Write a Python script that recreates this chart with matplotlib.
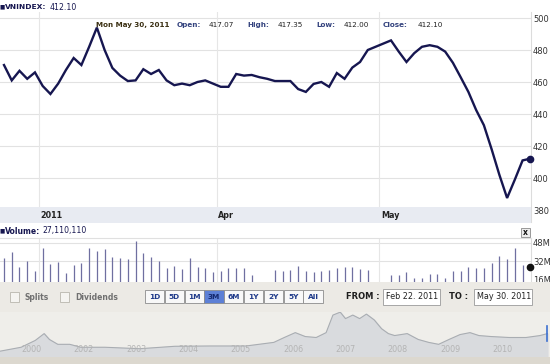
import matplotlib.pyplot as plt
from matplotlib.patches import Rectangle
import numpy as np

W, H = 550, 364

# VNINDEX daily close, Feb 22 -> May 30 2011 (one value per trading day)
close = [470.6, 461, 467, 462, 466, 457.5, 452.5, 459, 467.5, 475,
         470.6, 482, 494, 480, 468.8, 464, 460.6, 461, 468, 465,
         467.5, 461, 458, 459, 458, 460, 461, 459, 457, 457,
         465, 464, 464.4, 463, 462, 460.6, 460.6, 460.6, 455.6, 453.8,
         458.8, 460, 457, 465.6, 462, 469, 472.5, 480, 482, 484,
         486, 479, 472.5, 478, 482, 483, 482, 479, 472, 463,
         453.8, 442.5, 433, 418, 402, 387.5, 399, 411, 412.1]

# volume in millions of shares (nan = no bar drawn)
nan = np.nan
volume = [35.0, 40.2, 27.2, 32.4, 23.8, 43.7, 29.8, 31.6, 22.1, 29.0,
          30.7, 43.7, 41.1, 42.8, 35.9, 35.0, 34.2, 49.7, 39.4, 35.9,
          32.4, 26.4, 28.1, 25.5, 35.0, 27.2, 26.4, 22.9, 23.8, 26.4,
          26.4, 26.4, 20.3, nan, nan, 24.6, 23.8, 24.6, 28.1, 23.8,
          22.9, 23.8, 24.6, 26.4, 27.2, 27.2, 25.5, 24.6, nan, nan,
          20.3, 20.3, 22.9, 17.7, 17.7, 21.2, 21.2, 17.7, 23.8, 23.8,
          27.2, 26.4, 26.4, 30.7, 36.8, 34.2, 43.7, 29.0, 27.11]

month_pos = [4.5, 27.5, 48.5]
month_labels = ["2011", "Apr", "May"]
price_ticks = [380, 400, 420, 440, 460, 480, 500]
vol_ticks = [16, 32, 48]

# long-term overview (navigator) - position in label units, index level
hist_t = [-0.6, -0.2, 0.07, 0.24, 0.34, 0.5, 0.73, 0.94, 1.4, 2.07, 2.74, 3.42,
          4.1, 4.63, 4.83, 5.04, 5.23, 5.44, 5.63, 5.76, 5.9, 6.0, 6.14, 6.27,
          6.4, 6.55, 6.69, 6.82, 6.94, 7.18, 7.39, 7.59, 7.78, 7.98, 8.19,
          8.38, 8.55, 8.78, 9.13, 9.45, 9.72, 9.86]
hist_v = [156, 260, 442, 624, 468, 338, 338, 260, 260, 221, 286, 294,
          294, 390, 520, 650, 546, 520, 650, 1118, 1196, 1024, 1118, 1024,
          1144, 988, 754, 624, 572, 624, 468, 390, 338, 468, 598,
          650, 572, 546, 520, 520, 572, 624]
hist_labels = ["2000", "2002", "2003", "2004", "2005", "2006", "2007", "2008", "2009", "2010"]


def px_axes(x0, y0, x1, y1, **kw):
    return fig.add_axes([x0 / W, 1 - y1 / H, (x1 - x0) / W, (y1 - y0) / H], **kw)


def ftext(x, y, s, **kw):
    kw.setdefault("fontsize", 6)
    kw.setdefault("va", "center")
    return fig.text(x / W, 1 - y / H, s, **kw)


fig = plt.figure(figsize=(W / 100, H / 100), dpi=100)
fig.patch.set_facecolor("white")

idx = np.arange(len(close))
xlim = (-4 / 7.74, 527 / 7.74)
navy = "#161650"
lab_col = "#34437e"

# ---- price panel
ax = px_axes(0, 12, 531, 222)
ax.plot(idx, close, color=navy, lw=1.7, solid_joinstyle="miter", zorder=3)
ax.plot(idx[-1], close[-1], "o", color=navy, ms=4.5, clip_on=False, zorder=4)
ax.set_xlim(xlim)
ax.set_ylim(372.5, 503.75)
ax.set_yticks(price_ticks)
ax.yaxis.tick_right()
ax.tick_params(axis="y", length=0, pad=1.5, labelsize=6, labelcolor="#333333")
ax.set_xticks([])
for v in price_ticks:
    ax.axhline(v, color="#e2e2e2", lw=0.8, zorder=1)
for p in month_pos:
    ax.axvline(p, color="#e6e6e6", lw=0.8, zorder=1)
for s in ["top", "left", "bottom"]:
    ax.spines[s].set_visible(False)
ax.spines["right"].set_color("#dcdcdc")
ax.spines["right"].set_linewidth(0.8)

# ---- date band
band = px_axes(0, 207, 531, 223)
band.set_facecolor("#e8ebf2")
band.set_xlim(xlim)
band.set_ylim(0, 1)
band.set_xticks([])
band.set_yticks([])
for s in band.spines.values():
    s.set_visible(False)
for p, lab in zip(month_pos, month_labels):
    band.text(p + 0.2, 0.45, lab, fontsize=5.8, fontweight="bold", color="#222222",
              va="center", ha="left")

# ---- headers
ftext(0, 7, "\u25a0", fontsize=4, color=navy)
ftext(5, 7, "VNINDEX:", fontweight="bold", color=navy, fontsize=5.4)
ftext(50, 7, "412.10", fontsize=5.6, color=navy)

ftext(96, 25, "Mon May 30, 2011", fontweight="bold", color="#3a2f12", fontsize=5.1)
for x, s, bold in [(177, "Open:", True), (209, "417.07", False),
                   (247, "High:", True), (278, "417.35", False),
                   (316, "Low:", True), (344, "412.00", False),
                   (383, "Close:", True), (418, "412.10", False)]:
    ftext(x, 25, s, fontweight="bold" if bold else "normal",
          color=lab_col if bold else "#222222", fontsize=5.2)

ftext(0, 231, "\u25a0", fontsize=4, color=navy)
ftext(5, 231, "Volume:", fontweight="bold", color=navy, fontsize=5.5)
ftext(42, 231, "27,110,110", fontsize=5.6, color=navy)
fig.add_artist(Rectangle((521 / W, 1 - 237 / H), 9 / W, 9 / H, transform=fig.transFigure,
                         fc="#ececec", ec="#8a8a8a", lw=0.6))
ftext(525.5, 232.5, "x", fontsize=5.5, fontweight="bold", color="#111111", ha="center")

# ---- volume panel
av = px_axes(0, 238, 531, 282)
vi = idx[:-1]
vv = np.array(volume[:-1])
ok = ~np.isnan(vv)
av.vlines(vi[ok], 14.27, vv[ok], color="#6f6fa0", lw=0.9, zorder=3)
av.plot(idx[-1], volume[-1], "o", color="#111111", ms=4.5, clip_on=False, zorder=4)
av.set_xlim(xlim)
av.set_ylim(14.27, 52.3)
av.set_yticks(vol_ticks)
av.set_yticklabels([f"{v}M" for v in vol_ticks])
av.yaxis.tick_right()
av.tick_params(axis="y", length=0, pad=1.5, labelsize=6, labelcolor="#333333")
av.set_xticks([])
for v in vol_ticks[1:]:
    av.axhline(v, color="#e2e2e2", lw=0.8, zorder=1)
for p in month_pos:
    av.axvline(p, color="#e6e6e6", lw=0.8, zorder=1)
for s in ["left", "bottom"]:
    av.spines[s].set_visible(False)
av.spines["right"].set_color("#dcdcdc")
av.spines["top"].set_color("#e0e0e0")

# ---- toolbar
tb = px_axes(0, 282, 550, 312)
tb.set_xlim(0, 550)
tb.set_ylim(312, 282)
tb.axis("off")
tb.add_patch(Rectangle((0, 282), 550, 30, fc="#eceae5", ec="none"))
for x0, lab in [(9.5, "Splits"), (60, "Dividends")]:
    tb.add_patch(Rectangle((x0, 292), 9, 10, fc="#f5f4f1", ec="#b9b6ae", lw=0.6))
    tb.text(x0 + 15, 297, lab, fontsize=5.5, fontweight="bold", color="#707070", va="center")
buttons = ["1D", "5D", "1M", "3M", "6M", "1Y", "2Y", "5Y", "All"]
for k, lab in enumerate(buttons):
    x0 = 145 + k * 19.8
    sel = lab == "3M"
    tb.add_patch(Rectangle((x0, 290), 19.2, 13, fc="#5d80d6" if sel else "#f8f8f8",
                           ec="#8c8c8c", lw=0.6))
    tb.text(x0 + 9.6, 296.7, lab, fontsize=5.3, fontweight="bold",
            color="#14286e" if sel else "#1f3a8a", ha="center", va="center")
tb.text(346, 296.5, "FROM :", fontsize=6, fontweight="bold", color="#1e1e1e", va="center")
tb.add_patch(Rectangle((382.5, 288.5), 57.5, 16, fc="white", ec="#9a9a9a", lw=0.6))
tb.text(386, 296.5, "Feb 22. 2011", fontsize=5.8, color="#222222", va="center")
tb.text(449, 296.5, "TO :", fontsize=6, fontweight="bold", color="#1e1e1e", va="center")
tb.add_patch(Rectangle((473.7, 288.5), 58, 16, fc="white", ec="#9a9a9a", lw=0.6))
tb.text(477, 296.5, "May 30. 2011", fontsize=5.8, color="#222222", va="center")

# ---- navigator
nav = px_axes(0, 312, 550, 357)
nav.set_facecolor("#efeeea")
nav.fill_between(hist_t, 0, hist_v, color="#d9dbde", zorder=2)
nav.plot(hist_t, hist_v, color="#a9adb2", lw=0.8, zorder=3)
nav.set_xlim(-0.604, 9.91)
nav.set_ylim(0, 1200)
nav.set_xticks([])
nav.set_yticks([])
for s in nav.spines.values():
    s.set_visible(False)
for k, lab in enumerate(hist_labels):
    nav.text(k, 210, lab, fontsize=5.8, color="#b4b4b4", ha="center", va="center", zorder=4)
nav.axvline(9.86, ymax=0.7, ymin=0.35, color="#3b6fd0", lw=1.2, zorder=5)

bot = px_axes(0, 357, 550, 364)
bot.axis("off")
bot.add_patch(Rectangle((0, 0), 1, 1, transform=bot.transAxes, fc="#dcd8cf", ec="none"))

fig.savefig("out.png", dpi=100)
